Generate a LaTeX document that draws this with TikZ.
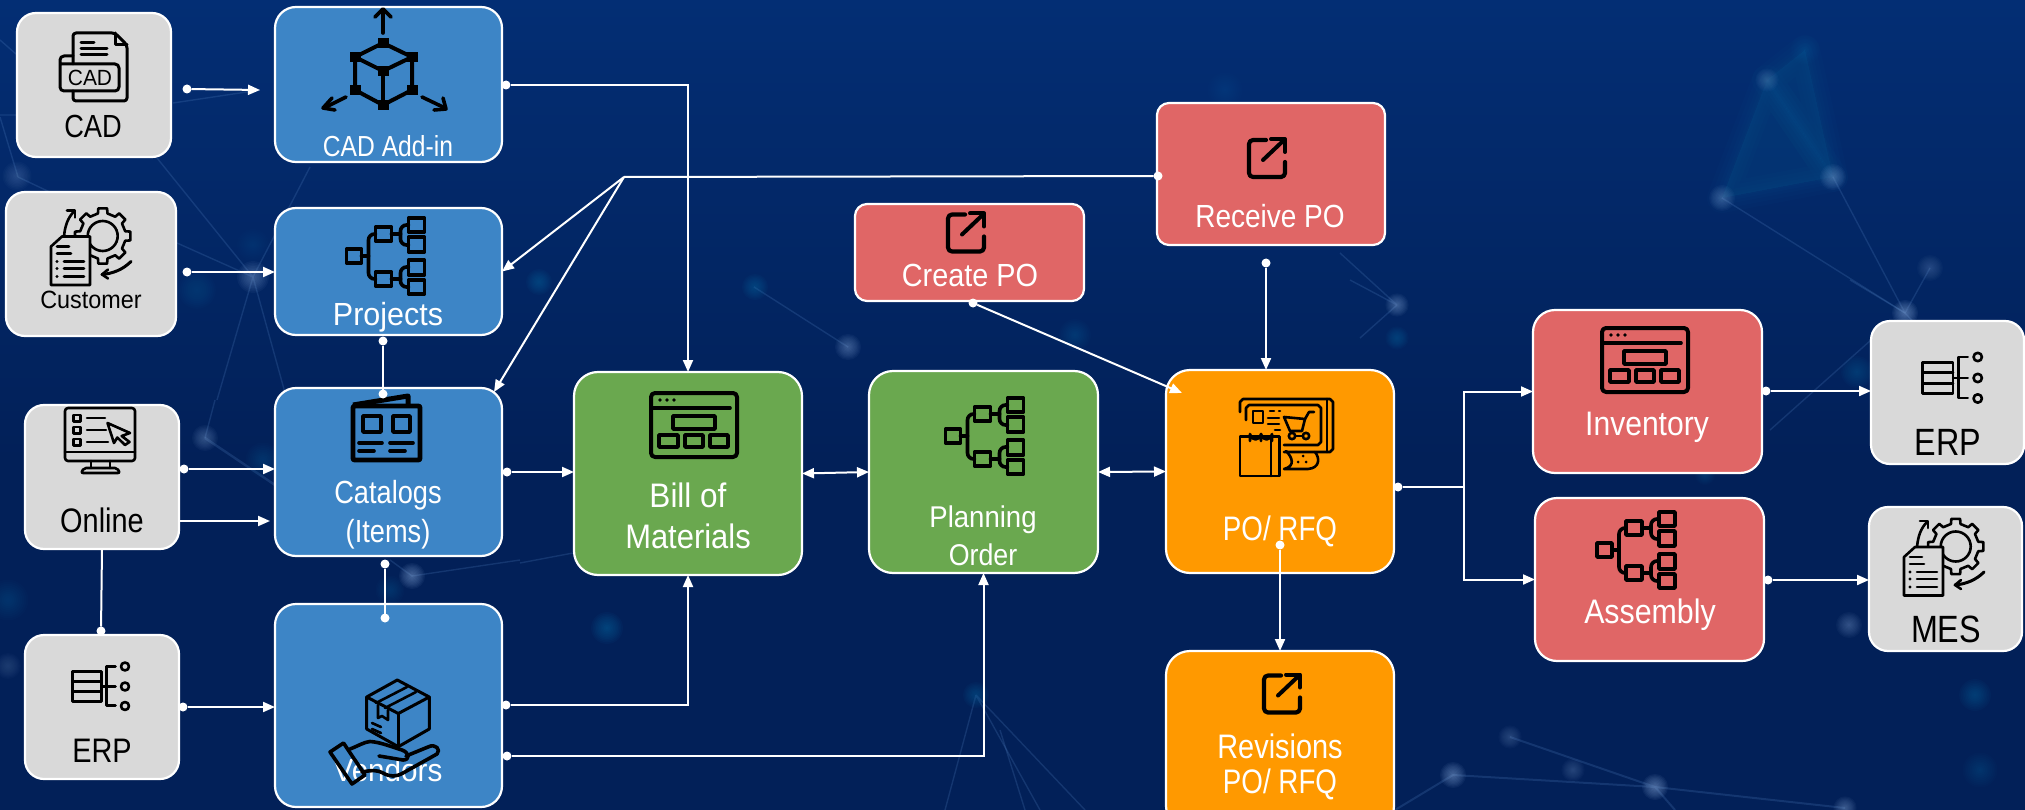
\documentclass[tikz,border=0pt]{standalone}
\usepackage{graphicx}
\usepackage{fontspec}
\setmainfont{Liberation Sans}
\newfontfamily\labfont[FakeStretch=0.85]{Liberation Sans}
\usetikzlibrary{arrows.meta,calc}
\definecolor{bgtop}{HTML}{032E74}
\definecolor{bgbot}{HTML}{022058}
\definecolor{gbox}{HTML}{D9D9D9}
\definecolor{bbox}{HTML}{3D85C6}
\definecolor{nbox}{HTML}{6AA84F}
\definecolor{rbox}{HTML}{E06666}
\definecolor{obox}{HTML}{FF9900}
\definecolor{netc}{HTML}{5D8FD0}
\definecolor{glowa}{HTML}{8FB0E0}
\definecolor{glowb}{HTML}{0F6FA8}
\newcommand{\bgglow}[5]{\foreach \k in {1,...,10}{\fill[#4,opacity=#5*0.62] (#1,#2) circle ({1.45*#3*\k/10});}}
\newcommand{\softtri}[3]{\foreach \w in {30,22,14,8,3}{\fill[glowb,opacity=.035,draw=glowb,line width=\w,line join=round] #1 -- #2 -- #3 -- cycle;}}
\newcommand{\bx}[6]{\node[#2,minimum width={#5-#3},minimum height={#6-#4}] (#1) at ({(#3+#5)/2},{(#4+#6)/2}) {};}
\newcommand{\lb}[6]{\node[lab,text=#6] (#1) at (#2,#3) {\fontsize{#4}{#4}\selectfont #5};}
\newcommand{\lbtwo}[7]{\node[lab,text=#7,align=center,font={\labfont\fontsize{#4}{#5}\selectfont}] (#1) at (#2,#3) {#6};}
\newcommand{\sx}[2]{\scalebox{#1}[1]{#2}}
\tikzset{
  boxbase/.style={rectangle,draw=white,line width=2.2,inner sep=0,outer sep=0},
  greybox/.style={boxbase,fill=gbox,rounded corners=19},
  bluebox/.style={boxbase,fill=bbox,rounded corners=21},
  greenbox/.style={boxbase,fill=nbox,rounded corners=24},
  redbox/.style={boxbase,fill=rbox,rounded corners=22},
  redsmall/.style={boxbase,fill=rbox,rounded corners=12},
  orangebox/.style={boxbase,fill=obox,rounded corners=24},
  lab/.style={anchor=base,inner sep=0,font=\labfont},
  dotn/.style={circle,fill=white,inner sep=0,minimum size=9,outer sep=0},
  wire/.style={draw=white,line width=2},
  conn/.style={wire,-{Triangle[length=12pt,width=10pt]}},
  conn2/.style={wire,{Triangle[length=12pt,width=10pt]}-{Triangle[length=12pt,width=10pt]}},
  netl/.style={draw=netc,line width=1.4,opacity=.2},
  ic/.style={draw=black,line width=3.6,line cap=round,line join=round},
  ict/.style={draw=black,line width=2.6,line cap=round,line join=round},
  hieri/.pic={
    \draw[ic] (-39,-7) rectangle (-24,7);
    \draw[ic] (-10,-29) rectangle (6,-15);
    \draw[ic] (-10,16) rectangle (6,30);
    \draw[ic] (23,-38) rectangle (39,-24);
    \draw[ic] (23,-19) rectangle (39,-4);
    \draw[ic] (23,4) rectangle (39,19);
    \draw[ic] (23,24) rectangle (39,38);
    \draw[ic,rounded corners=6] (-10,-22) -- (-17,-22) -- (-17,23) -- (-10,23);
    \draw[ic] (-24,0) -- (-17,0);
    \draw[ic,rounded corners=6] (23,-31) -- (15,-31) -- (15,-11) -- (23,-11);
    \draw[ic,rounded corners=6] (23,11) -- (15,11) -- (15,31) -- (23,31);
    \draw[ic] (6,-22) -- (15,-22);
    \draw[ic] (6,23) -- (15,23);
  },
  windowi/.pic={
    \draw[ic,line width=4,rounded corners=4] (-43,-32) rectangle (43,32);
    \draw[ic] (-43,-17) -- (36,-17);
    \fill (-34,-25) circle (1.9) (-27,-25) circle (1.9) (-20,-25) circle (1.9);
    \draw[ic] (-21,-9) rectangle (21,4);
    \draw[ic] (-35,10) rectangle (-16,22);
    \draw[ic] (-9,10) rectangle (9,22);
    \draw[ic] (16,10) rectangle (34,22);
  },
  sharei/.pic={
    \draw[ic,line width=4.2,rounded corners=4] (-1,-18) -- (-18,-18) -- (-18,19) -- (18,19) -- (18,4);
    \draw[ic,line width=4] (-4,2) -- (16,-17);
    \draw[ic,line width=4] (4,-19) -- (18,-19) -- (18,-6);
  },
  erpi/.pic={
    \draw[ict] (-28,-15) rectangle (1,15);
    \draw[ict] (-28,-5) -- (1,-5);
    \draw[ict] (-28,5) -- (1,5);
    \draw[ict] (1,0) -- (6,0);
    \draw[ict] (15,-20) -- (6,-20) -- (6,19) -- (15,19);
    \draw[ict] (6,0) -- (15,0);
    \draw[ict] (24.5,-20) circle (4);
    \draw[ict] (24.5,0) circle (4);
    \draw[ict] (24.5,19.5) circle (4);
  },
  geari/.pic={
    \begin{scope}[shift={(11.7,-11.5)}]
      \draw[ict,fill=gbox] (-12:23) \foreach \a in {0,45,...,315}{ -- ({\a-12}:23) -- ({\a-9}:28) -- ({\a+9}:28) -- ({\a+12}:23) } -- cycle;
      \draw[ict] (0,0) circle (15);
    \end{scope}
    \draw[ict,fill=gbox] (-29,-11) -- (-1,-11) -- (-1,37.5) -- (-40,37.5) -- (-40,-1) -- cycle;
    \draw[ict] (-34,-1) -- (-22,-1);
    \draw[ict] (-34,6) -- (-20,6);
    \foreach \yy in {14,21,29}{ \draw[ict] (-27,\yy) -- (-7,\yy); \fill (-34,\yy) circle (1.6); }
    \draw[ict] (-27,-11) .. controls (-26,-22) and (-23,-30) .. (-17,-36);
    \draw[ict] (-24,-37) -- (-16,-37) -- (-16,-30);
    \draw[ict,line width=3] (40,14) .. controls (32,22) and (22,26) .. (11,27);
    \draw[ict] (17,22) -- (11,27) -- (17,31);
  }
}
\begin{document}
\begin{tikzpicture}[x=1pt,y=-1pt]
\path[use as bounding box,clip] (0,0) rectangle (2025,810);
\fill[top color=bgtop,bottom color=bgbot] (0,0) rectangle (2025,460);
\fill[bgbot] (0,459) rectangle (2025,810);
% background network
\softtri{(1767,80)}{(1833,177)}{(1722,198)}
\softtri{(1805,50)}{(1833,177)}{(1767,80)}
\draw[netl] (157,158) -- (253,277) (310,167) -- (253,277) (177,243) -- (253,277) (253,277) -- (217,400) (253,277) -- (287,400);
\draw[netl] (0,117) -- (18,177) (0,40) -- (16,54) (0,115) -- (16,115) (173,103) -- (260,90) (18,177) -- (130,230);
\draw[netl,line width=2.4] (205,438) -- (275,485);
\draw[netl] (205,438) -- (215,400) (390,560) -- (412,576) -- (520,560) (520,563) -- (573,553);
\draw[netl] (754,287) -- (848,347);
\draw[netl] (976,695) -- (945,810) (976,695) -- (1040,810) (976,695) -- (1085,810);
\draw[netl] (1722,198) -- (1905,313) (1833,177) -- (1905,313) (1930,268) -- (1905,313);
\draw[netl] (1397,305) -- (1350,280) (1397,305) -- (1360,338) (1340,253) -- (1397,305);
\draw[netl] (1905,313) -- (1930,340) (1905,313) -- (1850,280);
\draw[netl] (1871,340) -- (1770,430);
\draw[netl,line width=2] (1453,775) -- (1655,787) -- (1845,808) (1510,737) -- (1655,787) (1453,775) -- (1395,810) (1655,787) -- (1675,810);
\draw[netl] (1000,730) -- (1025,810);
\bgglow{17}{176}{10}{glowa}{.05}
\bgglow{253}{277}{11}{glowa}{.08}
\bgglow{253}{245}{11}{glowb}{.04}
\bgglow{197}{290}{13}{glowb}{.05}
\bgglow{205}{438}{9}{glowa}{.07}
\bgglow{263}{460}{12}{glowb}{.05}
\bgglow{412}{576}{9}{glowa}{.10}
\bgglow{390}{590}{10}{glowb}{.05}
\bgglow{8}{600}{14}{glowb}{.05}
\bgglow{8}{666}{9}{glowa}{.04}
\bgglow{539}{282}{9}{glowb}{.09}
\bgglow{755}{287}{9}{glowb}{.09}
\bgglow{848}{347}{9}{glowa}{.08}
\bgglow{1075}{335}{11}{glowb}{.06}
\bgglow{607}{628}{11}{glowb}{.10}
\bgglow{976}{695}{9}{glowb}{.08}
\bgglow{1767}{80}{8}{glowa}{.05}
\bgglow{1805}{50}{10}{glowb}{.05}
\bgglow{1833}{177}{9}{glowa}{.08}
\bgglow{1722}{198}{9}{glowa}{.07}
\bgglow{1397}{305}{8}{glowa}{.09}
\bgglow{1397}{338}{8}{glowb}{.08}
\bgglow{1905}{313}{9}{glowa}{.11}
\bgglow{1930}{268}{9}{glowa}{.05}
\bgglow{1225}{90}{12}{glowb}{.04}
\bgglow{1857}{372}{11}{glowb}{.07}
\bgglow{1849}{625}{9}{glowa}{.07}
\bgglow{1705}{475}{7}{glowb}{.05}
\bgglow{1510}{737}{8}{glowa}{.05}
\bgglow{1453}{775}{9}{glowa}{.10}
\bgglow{1573}{770}{8}{glowa}{.05}
\bgglow{1655}{787}{9}{glowa}{.11}
\bgglow{1845}{808}{8}{glowa}{.08}
\bgglow{1975}{695}{11}{glowb}{.08}
\bgglow{1980}{770}{12}{glowb}{.06}
% boxes
\bx{cad}{greybox}{17}{13}{171}{157}
\bx{cust}{greybox}{6}{192}{176}{336}
\bx{online}{greybox}{25}{405}{179}{549}
\bx{erpl}{greybox}{25}{635}{179}{779}
\bx{addin}{bluebox}{275}{7}{502}{162}
\bx{proj}{bluebox}{275}{208}{502}{335}
\bx{cat}{bluebox}{275}{388}{502}{556}
\bx{vend}{bluebox}{275}{604}{502}{807}
\bx{bom}{greenbox}{574}{372}{802}{575}
\bx{plan}{greenbox}{869}{371}{1098}{573}
\bx{crpo}{redsmall}{855}{204}{1084}{301}
\bx{recpo}{redsmall}{1157}{103}{1385}{245}
\bx{po}{orangebox}{1166}{370}{1394}{573}
\bx{rev}{orangebox}{1166}{651}{1394}{830}
\bx{inv}{redbox}{1533}{310}{1762}{473}
\bx{asm}{redbox}{1535}{498}{1764}{661}
\bx{erpr}{greybox}{1871}{321}{2024}{464}
\bx{mes}{greybox}{1869}{507}{2022}{651}
% labels
\lb{lcad}{93}{138}{32}{CAD}{black}
\lb{lcust}{91}{308}{25}{\sx{1.1}{Customer}}{black}
\lb{lonline}{102}{532}{34}{Online}{black}
\lb{lerpl}{102}{762}{34}{ERP}{black}
\lb{laddin}{388}{157}{29}{CAD Add-in}{white}
\lb{lproj}{388}{325}{32}{\sx{1.12}{Projects}}{white}
\lbtwo{lcat}{388}{542}{32}{39}{Catalogs\\(Items)}{white}
\lb{lvend}{388}{781}{32}{\sx{1.09}{Vendors}}{white}
\lbtwo{lbom}{688}{548}{34}{41}{\sx{1.09}{Bill of}\\\sx{1.07}{Materials}}{white}
\lbtwo{lplan}{983}{565}{30}{38}{\sx{1.08}{Planning}\\\sx{1.05}{Order}}{white}
\lb{lcrpo}{970}{287}{32}{\sx{1.06}{Create PO}}{white}
\lb{lrecpo}{1270}{228}{32}{\sx{1.03}{Receive PO}}{white}
\lb{lpo}{1280}{540}{34}{\sx{.96}{PO/ RFQ}}{white}
\lbtwo{lrev}{1280}{793}{34}{35}{Revisions\\\sx{.96}{PO/ RFQ}}{white}
\lb{linv}{1647}{435}{34}{\sx{1.04}{Inventory}}{white}
\lb{lasm}{1650}{623}{34}{\sx{1.05}{Assembly}}{white}
\lb{lerpr}{1948}{455}{38}{ERP}{black}
\lb{lmes}{1946}{642}{38}{MES}{black}
% repeated icons
\pic at (385.5,256) {hieri};
\pic at (984.5,436) {hieri};
\pic at (1636,550) {hieri};
\pic at (694,425) {windowi};
\pic at (1645,360) {windowi};
\pic at (966,232.5) {sharei};
\pic at (1267,158) {sharei};
\pic at (1282,693.5) {sharei};
\pic at (100.5,686.5) {erpi};
\pic[scale=1.05] at (1952,378) {erpi};
\pic at (91,247.5) {geari};
\pic at (1944,558) {geari};
% CAD icon
\draw[ict,line width=3,rounded corners=3] (73,64) -- (73,33) -- (115,33) -- (127,45) -- (127,101) -- (73,101) -- (73,91);
\draw[ict,line width=3] (115,33) -- (115,45) -- (127,45);
\draw[ict,line width=3] (81,43) -- (94,43) (81,49) -- (107,49) (81,55) -- (107,55);
\draw[ict,line width=3,rounded corners=4] (73,56) -- (60,56) -- (60,91) -- (119,91) -- (119,64) -- (60,64);
\node[inner sep=0,anchor=center,text=black] (cadglyph) at (90,78) {\labfont\fontsize{22}{22}\selectfont\sx{1.12}{CAD}};
% cube icon
\draw[ic,line width=4] (383,43) -- (355,57) -- (383,71) -- (412,57) -- cycle;
\draw[ic,line width=4] (355,57) -- (355,90) -- (383,105) -- (412,90) -- (412,57);
\draw[ic,line width=4] (383,71) -- (383,105);
\foreach \cx/\cy in {383/43,355/57,412/57,383/71,355/90,412/90,383/105}{\fill[black] (\cx-5.5,\cy-5) rectangle (\cx+5.5,\cy+5);}
\draw[ic] (383,33) -- (383,10);
\draw[ic] (375,17) -- (383,9) -- (391,17);
\draw[ic] (346,97) -- (324,108);
\draw[ic] (332,98) -- (323,108) -- (335,110);
\draw[ic] (422,97) -- (445,108);
\draw[ic] (443,98) -- (446,109) -- (434,110);
% catalog icon
\draw[ic,line width=5,line cap=butt] (353,405) -- (408,396) -- (408,405);
\draw[ic,line width=4.6,rounded corners=1] (353,406) rectangle (420,460);
\draw[ic] (363,416) rectangle (381,432);
\draw[ic] (393,416) rectangle (410,432);
\draw[ic] (359,443) -- (382,443) (390,443) -- (413,443) (359,451) -- (374,451) (390,451) -- (405,451);
% monitor icon
\draw[ict,rounded corners=3] (65,408) rectangle (135,461);
\draw[ict] (65,452) -- (135,452);
\draw[ict] (91,461) -- (91,468) (110,461) -- (110,468);
\draw[ict,rounded corners=2] (81,473) -- (84,468) -- (117,468) -- (120,473) -- cycle;
\foreach \yy in {418,430,442}{\draw[ict] (73.5,\yy-3.2) rectangle (80.5,\yy+3.2);}
\draw[ict] (87,418) -- (105,418) (87,430) -- (106,430) (87,442) -- (108,442);
\draw[ict,fill=gbox] (107.5,423) -- (130,433) -- (121.7,436) -- (129.5,442) -- (125,445) -- (117.3,437.5) -- (114,443) -- cycle;
% hand and box icon
\draw[ict,line width=3] (397.3,680) -- (429.3,697) -- (429.3,729) -- (398.3,746.7) -- (366.7,729) -- (366.7,697) -- cycle;
\draw[ict,line width=3] (366.7,697) -- (398.3,713.5) -- (429.3,697);
\draw[ict,line width=3] (398.3,713.5) -- (398.3,746.7);
\draw[ict] (376,703) -- (407,687) (385,708) -- (416,692);
\draw[ict] (378,705) -- (378,718) -- (382,716) -- (388,720) -- (388,710);
\draw[ict] (372,723) -- (381,727) (372,729) -- (381,733);
\draw[ic] (330,752) -- (343.5,743) -- (365,775) -- (352,784) -- cycle;
\draw[ic] (350,749) .. controls (358,746) and (364,742) .. (370,741.5) .. controls (380,742) and (392,747) .. (402,750) .. controls (410,753) and (410,760) .. (403,760) -- (379,756);
\draw[ic] (406,756) -- (428,747) .. controls (436,743) and (441,750) .. (437,754) -- (403,773) .. controls (396,777) and (390,777) .. (383,773) .. controls (378,770) and (372,770) .. (362,772);
% shop icon
\draw[ict] (1240,412) -- (1240,402) -- (1243,399) -- (1330,399) -- (1333,402) -- (1333,449) -- (1330,452) -- (1284,452);
\draw[ict] (1327,399) -- (1327,452);
\draw[ict] (1246,420) -- (1246,408) -- (1249,405) -- (1318,405) -- (1321,408) -- (1321,442) -- (1318,445) -- (1284,445);
\draw[ict] (1240,436.5) rectangle (1279.5,476);
\draw[ict] (1271,436.5) -- (1271,476);
\draw[ict] (1250,441) -- (1250,434) arc (180:0:5.5) -- (1261,441);
\draw[ict] (1261,434) arc (180:0:5.5) -- (1272,441);
\draw[ict] (1253,411) rectangle (1263,423);
\draw[ict] (1270,411) -- (1274,411) (1279,411) -- (1280,411) (1268,418) -- (1279,418) (1268,424) -- (1279,424) (1275,430) -- (1280,430);
\draw[ict] (1284,417) -- (1305,419) -- (1302,431) -- (1290,431) -- cycle;
\draw[ict] (1305,419) -- (1309,412) -- (1314,412);
\draw[ict] (1292,436) circle (3.2) (1306,436) circle (3.2);
\draw[ict] (1296,436) -- (1302,436);
\draw[ict] (1286,451) .. controls (1292,457) and (1296,466) .. (1284,469) -- (1308,469) .. controls (1320,468) and (1320,458) .. (1315,452);
\fill (1298,462) circle (1.5) (1306,462) circle (1.5) (1303,456) circle (1.5);
% connection dots and points
\node[dotn] (dcad) at (187,89) {};
\coordinate (taddin) at (260,90);
\node[dotn] (dcust) at (187,272) {};
\node[dotn] (daddin) at (506,85) {};
\node[dotn] (drec) at (1158,176) {};
\coordinate (hubr) at (624,177);
\coordinate (tcat) at (494,392);
\node[dotn] (dprojs) at (383,341) {};
\node[dotn] (dcatn) at (383,394) {};
\node[dotn] (dcate) at (507,472) {};
\node[dotn] (don) at (184,469) {};
\coordinate (onb) at (179,521);
\coordinate (tcatb) at (270,521);
\node[dotn] (derpt) at (101,631) {};
\node[dotn] (derp) at (183,707) {};
\node[dotn] (dcats) at (385,564) {};
\node[dotn] (dvendn) at (385,618) {};
\node[dotn] (dvenda) at (506,705) {};
\node[dotn] (dvendb) at (507,756) {};
\node[dotn] (dcrpo) at (973,303) {};
\coordinate (tpo) at (1182,393);
\node[dotn] (drecs) at (1266,263) {};
\node[dotn] (dpoe) at (1398,487) {};
\coordinate (pohub) at (1464,487);
\node[dotn] (dpos) at (1280,545) {};
\node[dotn] (dinv) at (1766,391) {};
\node[dotn] (dasm) at (1768,580) {};
% connectors
\draw[conn] (dcad) -- (taddin);
\draw[conn] (dcust) -- (dcust -| proj.west);
\draw[conn] (daddin) -| (bom.north);
\draw[wire] (drec) -- (hubr);
\draw[conn] (hubr) -- (proj.east);
\draw[conn] (hubr) -- (tcat);
\draw[wire] (dprojs) -- (dcatn);
\draw[conn] (dcate) -- (dcate -| bom.west);
\draw[conn] (don) -- (don -| cat.west);
\draw[conn] (onb) -- (tcatb);
\draw[wire] (online.south) -- (derpt);
\draw[conn] (derp) -- (derp -| vend.west);
\draw[wire] (dcats) -- (dvendn);
\draw[conn] (dvenda) -| (bom.south);
\draw[conn] (dvendb) -| (plan.south);
\draw[conn2] (bom.east) -- (plan.west);
\draw[conn2] (plan.east) -- (po.west);
\draw[conn] (dcrpo) -- (tpo);
\draw[conn] (drecs) -- (drecs |- po.north);
\draw[wire] (dpoe) -- (pohub);
\draw[conn] (pohub) |- (inv.west);
\draw[conn] (pohub) |- (asm.west);
\draw[conn] (dpos) -- (dpos |- rev.north);
\draw[conn] (dinv) -- (dinv -| erpr.west);
\draw[conn] (dasm) -- (dasm -| mes.west);
\end{tikzpicture}
\end{document}
